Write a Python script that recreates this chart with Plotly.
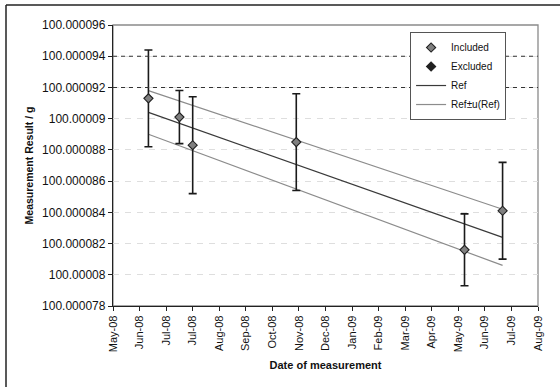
import plotly.graph_objects as go

# Measurement dates and results (grams) with expanded uncertainties
dates = ["2008-06-11", "2008-07-16", "2008-07-31", "2008-11-25", "2009-06-03", "2009-07-16"]
results = [100.0000913, 100.0000901, 100.0000883, 100.0000885, 100.0000816, 100.0000841]
uncert = [0.0000031, 0.0000017, 0.0000031, 0.0000031, 0.0000023, 0.0000031]

# Excluded results (none in this data set)
excl_dates = [None]
excl_results = [None]

# Reference value drift line and its uncertainty band (start / end)
ref_dates = ["2008-06-11", "2009-07-16"]
ref_vals = [100.0000904, 100.0000824]
ref_upper = [100.0000918, 100.0000842]
ref_lower = [100.0000890, 100.0000806]

# Dashed limit lines
limit_vals = [100.000094, 100.000092]

# Axis ticks
y_ticks = [100.000078, 100.000080, 100.000082, 100.000084, 100.000086,
           100.000088, 100.000090, 100.000092, 100.000094, 100.000096]
y_labels = ["100.000078", "100.00008", "100.000082", "100.000084", "100.000086",
            "100.000088", "100.00009", "100.000092", "100.000094", "100.000096"]
x_ticks = ["2008-05-02", "2008-06-01", "2008-07-01", "2008-07-31", "2008-08-30",
           "2008-09-29", "2008-10-29", "2008-11-28", "2008-12-28", "2009-01-27",
           "2009-02-26", "2009-03-28", "2009-04-27", "2009-05-27", "2009-06-26",
           "2009-07-26", "2009-08-25"]
x_labels = ["May-08", "Jun-08", "Jul-08", "Jul-08", "Aug-08", "Sep-08", "Oct-08",
            "Nov-08", "Dec-08", "Jan-09", "Feb-09", "Mar-09", "Apr-09", "May-09",
            "Jun-09", "Jul-09", "Aug-09"]

FONT = "Liberation Sans, Arial, sans-serif"

fig = go.Figure()

# Ref ± u(Ref) band lines
fig.add_trace(go.Scatter(x=ref_dates, y=ref_upper, mode="lines",
                         line=dict(color="#8c8c8c", width=1.2),
                         name="Ref\u00b1u(Ref)", legendrank=4))
fig.add_trace(go.Scatter(x=ref_dates, y=ref_lower, mode="lines",
                         line=dict(color="#8c8c8c", width=1.2),
                         showlegend=False))
# Reference line
fig.add_trace(go.Scatter(x=ref_dates, y=ref_vals, mode="lines",
                         line=dict(color="#3a3a3a", width=1.2),
                         name="Ref", legendrank=3))

# Included results with error bars
fig.add_trace(go.Scatter(
    x=dates, y=results, mode="markers", name="Included", legendrank=1,
    marker=dict(symbol="diamond", size=7, color="#808080",
                line=dict(color="#202020", width=1.1)),
    error_y=dict(type="data", array=uncert, visible=True,
                 color="#1a1a1a", thickness=1.6, width=4),
))
# Excluded results
fig.add_trace(go.Scatter(
    x=excl_dates, y=excl_results, mode="markers", name="Excluded", legendrank=2,
    marker=dict(symbol="diamond", size=7, color="#202020",
                line=dict(color="#202020", width=1.1)),
))

# Dashed limit lines across the plot
for v in limit_vals:
    fig.add_hline(y=v, line=dict(color="#333333", width=1.1, dash="4px,4px"))

# Plot area frame (grey)
fig.add_shape(type="rect", xref="paper", yref="paper", x0=0, x1=1, y0=0, y1=1,
              line=dict(color="#8a8a8a", width=1.3), layer="below")
# Outer chart border: left and top edges
ox0 = (6 - 113) / 425
oy1 = (306 - 5) / 281
fig.add_shape(type="line", xref="paper", yref="paper",
              x0=ox0, x1=ox0, y0=-1, y1=oy1,
              line=dict(color="#222222", width=1.5), layer="below")
fig.add_shape(type="line", xref="paper", yref="paper",
              x0=ox0, x1=2, y0=oy1, y1=oy1,
              line=dict(color="#222222", width=1.5), layer="below")

fig.update_layout(
    width=560, height=387,
    margin=dict(l=113, r=22, t=25, b=81),
    paper_bgcolor="white", plot_bgcolor="white",
    font=dict(family=FONT, size=11, color="#111111"),
    showlegend=True,
    legend=dict(x=0.699, y=0.975, xanchor="left", yanchor="top",
                bgcolor="white", bordercolor="#555555", borderwidth=1,
                font=dict(family=FONT, size=10), tracegroupgap=0,
                itemwidth=30),
    xaxis=dict(
        type="date", range=[x_ticks[0], x_ticks[-1]],
        tickmode="array", tickvals=x_ticks, ticktext=x_labels,
        tickangle=-90, ticks="outside", ticklen=4, tickcolor="#222222",
        showline=True, linecolor="#222222", linewidth=1.3,
        showgrid=False, zeroline=False,
        tickfont=dict(family=FONT, size=11),
        title=dict(text="<b>Date of measurement</b>", standoff=10,
                   font=dict(family=FONT, size=11)),
    ),
    yaxis=dict(
        range=[100.000078, 100.000096],
        tickmode="array", tickvals=y_ticks, ticktext=y_labels,
        ticks="outside", ticklen=4, tickcolor="#222222",
        showline=True, linecolor="#222222", linewidth=1.3,
        showgrid=True, gridcolor="#dedede", griddash="6px,6px", gridwidth=1,
        zeroline=False,
        tickfont=dict(family=FONT, size=12),
        title=dict(text="<b>Measurement Result / g</b>", standoff=6,
                   font=dict(family=FONT, size=10.5)),
    ),
)

fig.write_html("out.html")
